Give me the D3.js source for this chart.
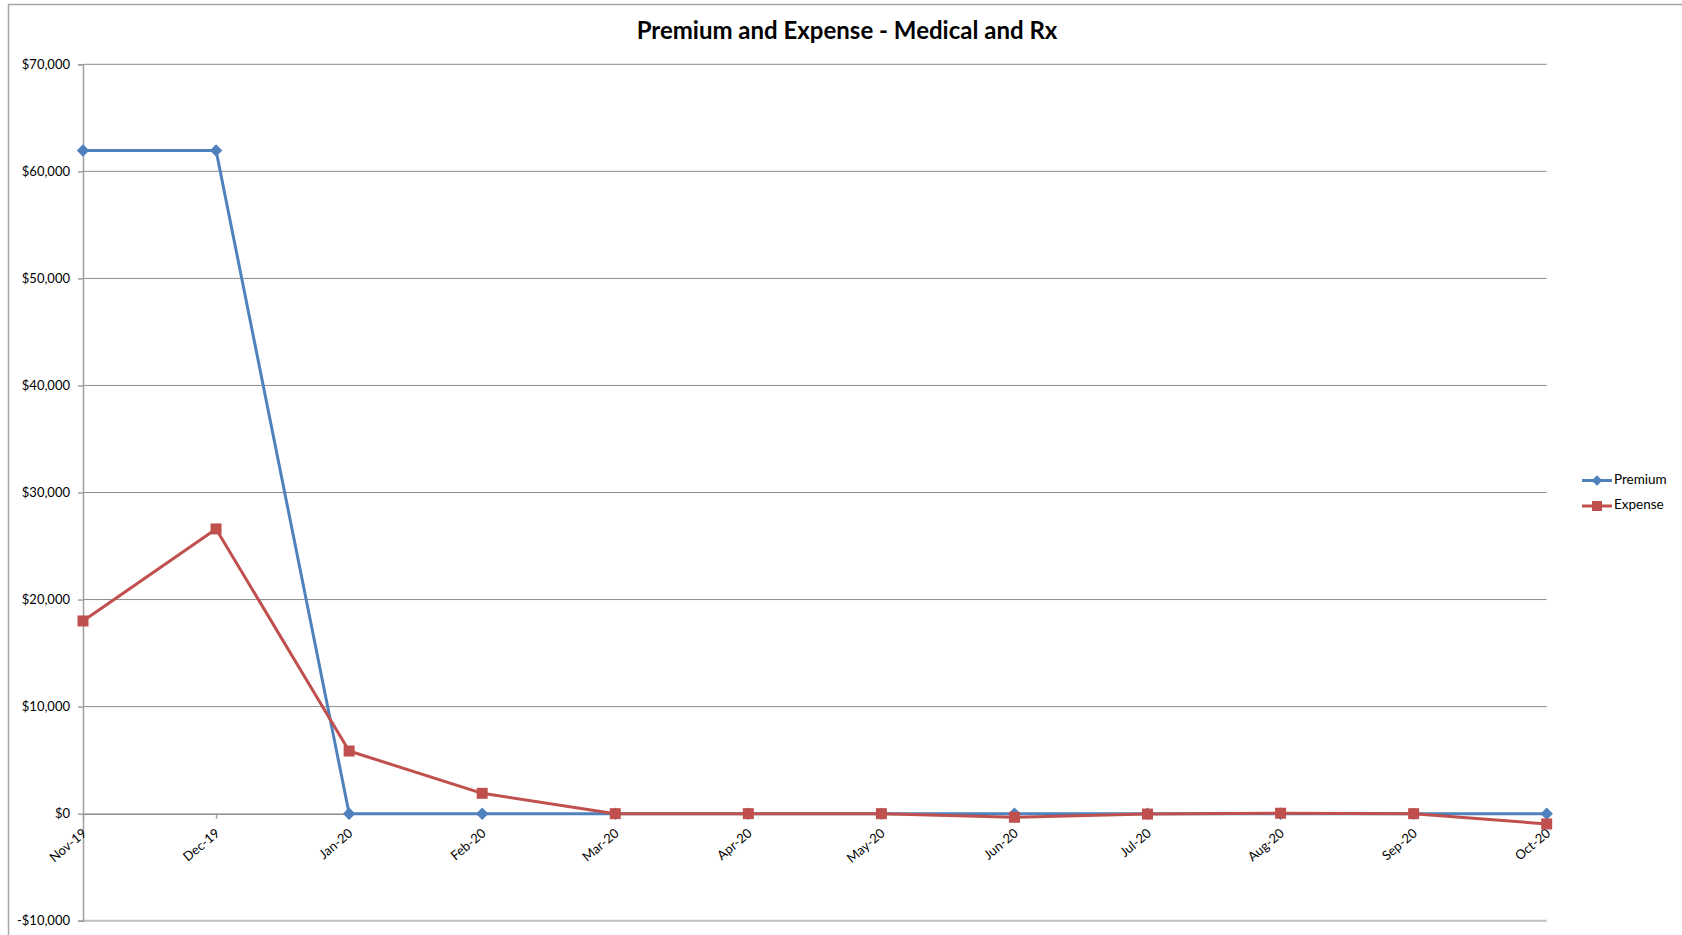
<!DOCTYPE html>
<html>
<head>
<meta charset="utf-8">
<script src="https://cdn.jsdelivr.net/npm/d3@7"></script>
<style>
  html, body { margin: 0; padding: 0; background: #ffffff; }
  svg { display: block; }
  text { font-family: Lato, "Open Sans", "Liberation Sans", sans-serif; fill: #000; }
</style>
</head>
<body>
<svg id="chart" width="1682" height="935"></svg>
<script>
// Monthly premium vs. expense, medical and Rx combined
const months = ["Nov-19", "Dec-19", "Jan-20", "Feb-20", "Mar-20", "Apr-20",
                "May-20", "Jun-20", "Jul-20", "Aug-20", "Sep-20", "Oct-20"];
const premium = [61950, 61950, 0, 0, 0, 0, 0, 0, 0, 0, 0, 0];
const expense = [18000, 26600, 5850, 1900, 0, 0, 0, -340, -40, 40, 0, -960];
const yTicks = [-10000, 0, 10000, 20000, 30000, 40000, 50000, 60000, 70000];
const seriesNames = ["Premium", "Expense"];
const titleText = "Premium and Expense - Medical and Rx";

const svg = d3.select("#chart");
const W = 1682, H = 935;
const plot = { left: 83, right: 1546.7, top: 64.3, bottom: 920.7 };

const BLUE = "#4f81bd", RED = "#c0504d";

// Chart frame
svg.append("rect")
  .attr("x", 8.5).attr("y", 4.5)
  .attr("width", W + 20).attr("height", H + 20)
  .attr("fill", "#fff").attr("stroke", "#a6a6a6").attr("stroke-width", 1.5);

const x = d3.scalePoint().domain(months).range([plot.left, plot.right]);
const y = d3.scaleLinear().domain([-10000, 70000]).range([plot.bottom, plot.top]);

const money = d3.formatLocale({
  decimal: ".", thousands: ",", grouping: [3], currency: ["$", ""], minus: "-"
}).format("$,.0f");

// Horizontal gridlines
svg.append("g")
  .selectAll("line")
  .data(yTicks.filter(v => v !== 0 && v !== -10000))
  .join("line")
  .attr("x1", plot.left).attr("x2", plot.right)
  .attr("y1", d => y(d)).attr("y2", d => y(d))
  .attr("stroke", "#8c8c8c").attr("stroke-width", 1);

// Bottom edge of the plot area
svg.append("line")
  .attr("x1", plot.left).attr("x2", plot.right)
  .attr("y1", y(-10000)).attr("y2", y(-10000))
  .attr("stroke", "#c0c0c0").attr("stroke-width", 2);

// Y axis
const yAxis = svg.append("g")
  .attr("transform", `translate(${plot.left},0)`)
  .call(d3.axisLeft(y).tickValues(yTicks).tickFormat(money).tickSize(5).tickPadding(8));
yAxis.select(".domain").attr("stroke", "#a0a0a0").attr("stroke-width", 1.5);
yAxis.selectAll(".tick line").attr("stroke", "#a0a0a0").attr("stroke-width", 1.5);
yAxis.selectAll(".tick text")
  .attr("font-size", 13).attr("fill", "#000")
  .style("font-family", "Lato, 'Open Sans', sans-serif");

// X axis at zero with rotated month labels
const xAxis = svg.append("g")
  .attr("transform", `translate(0,${y(0)})`)
  .call(d3.axisBottom(x).tickSize(5).tickSizeOuter(0));
xAxis.select(".domain").attr("stroke", "#8c8c8c").attr("stroke-width", 1.5);
xAxis.selectAll(".tick line").attr("stroke", "#a0a0a0").attr("stroke-width", 1.5);
xAxis.selectAll(".tick text")
  .attr("font-size", 13).attr("fill", "#000")
  .style("font-family", "Lato, 'Open Sans', sans-serif")
  .attr("text-anchor", "end")
  .attr("dy", null)
  .attr("y", null)
  .attr("transform", "translate(4,21) rotate(-40)");

// Series lines and markers
const line = d3.line().x((d, i) => x(months[i])).y(d => y(d));

function drawSeries(values, color, shape) {
  svg.append("path")
    .datum(values)
    .attr("d", line)
    .attr("fill", "none")
    .attr("stroke", color)
    .attr("stroke-width", 3)
    .attr("stroke-linejoin", "round");
  const sym = d3.symbol().type(shape).size(shape === d3.symbolSquare ? 121 : 100);
  svg.append("g")
    .selectAll("path")
    .data(values)
    .join("path")
    .attr("d", sym)
    .attr("transform", (d, i) => `translate(${x(months[i])},${y(d)})`)
    .attr("fill", color);
}
drawSeries(premium, BLUE, d3.symbolDiamond2);
drawSeries(expense, RED, d3.symbolSquare);

// Title
svg.append("text")
  .attr("x", 847).attr("y", 39)
  .attr("text-anchor", "middle")
  .attr("font-size", 24).attr("font-weight", "bold")
  .text(titleText);

// Legend
const legend = svg.append("g");
const legendColors = [BLUE, RED];
const legendShapes = [d3.symbolDiamond2, d3.symbolSquare];
seriesNames.forEach((name, i) => {
  const ly = 480.5 + i * 25.5;
  legend.append("line")
    .attr("x1", 1582).attr("x2", 1612).attr("y1", ly).attr("y2", ly)
    .attr("stroke", legendColors[i]).attr("stroke-width", 3);
  legend.append("path")
    .attr("d", d3.symbol().type(legendShapes[i]).size(i === 1 ? 100 : 70)())
    .attr("transform", `translate(1597,${ly})`)
    .attr("fill", legendColors[i]);
  legend.append("text")
    .attr("x", 1614).attr("y", ly)
    .attr("dominant-baseline", "middle")
    .attr("font-size", 13.5)
    .text(name);
});
</script>
</body>
</html>
